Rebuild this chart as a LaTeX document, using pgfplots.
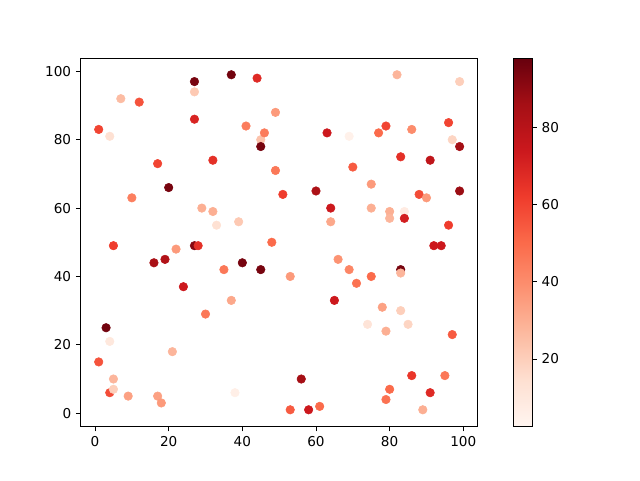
\documentclass[border=0pt]{standalone}
\usepackage{pgfplots}
\pgfplotsset{compat=1.18}
\usepackage{pgfplotstable}
\usepackage{fontspec}
\setmainfont{DejaVu Sans}
\pgfplotstableread{
x y c
27 97 95
37 99 96
44 98 68
27 94 22
7 92 26
12 91 56
49 88 36
27 86 70
1 83 60
4 81 14
41 84 45
45 80 24
45 78 95
46 82 45
17 73 60
32 74 66
49 71 46
20 66 95
10 63 44
51 64 62
29 60 30
32 59 30
33 55 14
39 56 22
5 49 62
22 48 36
27 49 92
28 49 66
48 50 50
16 44 85
19 45 82
40 44 95
45 42 95
35 42 46
53 40 36
24 37 74
37 33 32
30 29 46
3 25 96
4 21 10
21 18 28
1 15 56
5 10 28
4 6 58
5 7 20
9 5 34
17 5 34
18 3 36
38 6 6
53 1 54
82 99 28
99 97 20
63 82 74
69 81 5
77 82 50
79 84 60
86 83 40
96 85 60
97 80 18
99 78 86
83 75 66
91 74 78
70 72 54
75 67 36
60 65 84
99 65 88
88 64 58
90 63 36
64 60 74
75 60 30
80 59 30
84 59 8
80 57 28
84 57 72
64 56 32
96 55 62
92 49 74
94 49 74
66 45 38
69 42 42
71 38 48
75 40 50
83 42 95
83 41 28
65 33 74
78 31 34
83 30 20
74 26 12
79 24 30
85 26 18
97 23 54
56 10 86
86 11 64
95 11 46
80 7 50
91 6 68
79 4 48
58 1 74
61 2 50
89 1 30
}\datatable
\begin{document}
\begin{tikzpicture}
\path[use as bounding box] (0,0) rectangle (480pt,360pt);
\begin{axis}[
  at={(60.5pt,40.1pt)}, anchor=south west,
  scale only axis, width=297.75pt, height=276.4pt,
  xmin=-3.9, xmax=103.9, ymin=-3.9, ymax=103.9,
  xtick={0,20,40,60,80,100}, ytick={0,20,40,60,80,100},
  tick align=outside, xtick pos=bottom, ytick pos=left,
  major tick length=3.6pt,
  tick style={black, line width=0.6pt},
  axis line style={line width=0.6pt},
  ticklabel style={font=\fontsize{10.2pt}{12pt}\selectfont},
  /pgf/number format/assume math mode=true,
  colormap={reds}{rgb255=(255,245,240) rgb255=(254,224,210) rgb255=(252,187,161) rgb255=(252,146,114) rgb255=(251,106,74) rgb255=(239,59,44) rgb255=(203,24,29) rgb255=(165,15,21) rgb255=(103,0,13)},
  point meta min=2.5, point meta max=98,
  colorbar,
  colorbar style={
    at={(parent axis.north east)}, anchor=north west, xshift=18.5pt,
    scale only axis, width=13.8pt, height=276.4pt,
    ytick={20,40,60,80}, xtick=\empty,
    ytick pos=right, yticklabel pos=right,
    tick align=outside, major tick length=3.6pt,
    tick style={black, line width=0.6pt},
    axis line style={line width=0.6pt},
    yticklabel style={font=\fontsize{10.2pt}{12pt}\selectfont},
    /pgf/number format/assume math mode=true,
  },
]
\addplot[scatter, only marks, mark=*, mark size=3.2pt, scatter src=explicit,
  scatter/use mapped color={draw=mapped color, fill=mapped color}]
  table[x=x, y=y, meta=c] {\datatable};
\end{axis}
\end{tikzpicture}
\end{document}
